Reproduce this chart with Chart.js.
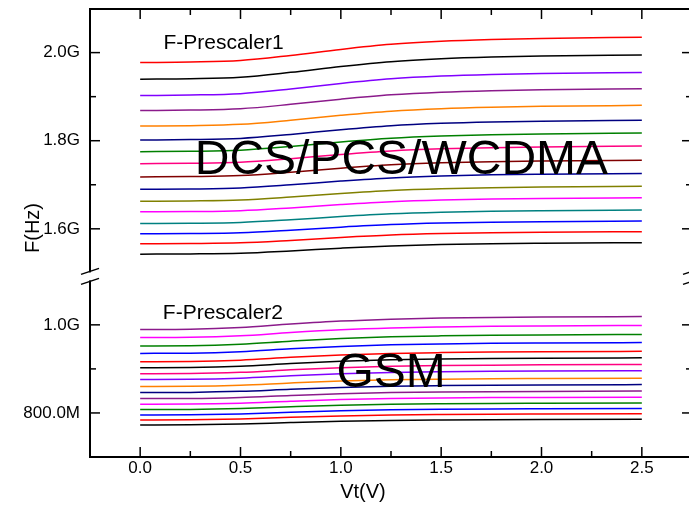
<!DOCTYPE html>
<html>
<head>
<meta charset="utf-8">
<script src="https://cdn.jsdelivr.net/npm/chart.js@4"></script>
<style>
  html, body { margin: 0; padding: 0; background: #fff; overflow: hidden; }
  #wrap { position: absolute; left: 0; top: 0; width: 700px; height: 506px; }
</style>
</head>
<body>
<div id="wrap"><canvas id="vco-chart" width="700" height="506"></canvas></div>
<script>
// Tuning voltage sweep (V)
const voltage = [0, 0.25, 0.5, 0.75, 1.0, 1.25, 1.5, 1.75, 2.0, 2.5];

// F-Prescaler1 outputs (MHz), one row per band setting, highest first
const prescaler1 = [
  [1977.4, 1978.6, 1982.0, 1993.5, 2007.3, 2018.8, 2025.7, 2029.7, 2032.0, 2034.9],
  [1939.8, 1940.9, 1944.2, 1955.2, 1968.4, 1979.4, 1986.0, 1989.9, 1992.1, 1994.8],
  [1902.6, 1903.7, 1906.8, 1917.3, 1929.9, 1940.4, 1946.7, 1950.4, 1952.5, 1955.1],
  [1868.6, 1869.6, 1872.6, 1882.5, 1894.3, 1904.2, 1910.2, 1913.6, 1915.6, 1918.1],
  [1833.3, 1834.2, 1837.1, 1846.5, 1857.7, 1867.1, 1872.8, 1876.1, 1878.0, 1880.3],
  [1801.6, 1802.5, 1805.2, 1814.2, 1825.0, 1834.0, 1839.4, 1842.6, 1844.4, 1846.6],
  [1775.1, 1776.0, 1778.5, 1787.0, 1797.2, 1805.7, 1810.8, 1813.8, 1815.5, 1817.6],
  [1747.9, 1748.7, 1751.1, 1759.1, 1768.7, 1776.7, 1781.5, 1784.3, 1785.9, 1787.9],
  [1717.8, 1718.6, 1720.8, 1728.4, 1737.6, 1745.2, 1749.7, 1752.4, 1753.9, 1755.8],
  [1689.7, 1690.4, 1692.6, 1699.8, 1708.4, 1715.6, 1719.9, 1722.5, 1723.9, 1725.7],
  [1662.5, 1663.2, 1665.2, 1672.0, 1680.2, 1687.0, 1691.1, 1693.4, 1694.8, 1696.5],
  [1638.5, 1639.1, 1641.1, 1647.5, 1655.1, 1661.5, 1665.4, 1667.6, 1668.9, 1670.5],
  [1612.0, 1612.6, 1614.4, 1620.5, 1627.9, 1634.0, 1637.6, 1639.8, 1641.0, 1642.5],
  [1588.7, 1589.3, 1591.0, 1596.8, 1603.8, 1609.6, 1613.1, 1615.1, 1616.3, 1617.7],
  [1566.0, 1566.6, 1568.2, 1573.7, 1580.3, 1585.8, 1589.1, 1591.0, 1592.1, 1593.5],
  [1542.5, 1543.0, 1544.6, 1549.8, 1556.0, 1561.2, 1564.3, 1566.2, 1567.2, 1568.5]
];

// F-Prescaler2 outputs (MHz)
const prescaler2 = [
  [989.3, 989.9, 993.7, 1001.7, 1008.5, 1012.9, 1015.3, 1016.7, 1017.6, 1018.8],
  [971.0, 971.6, 975.1, 982.6, 988.9, 993.0, 995.2, 996.6, 997.4, 998.5],
  [952.1, 952.6, 956.0, 963.0, 969.0, 972.9, 975.0, 976.3, 977.1, 978.1],
  [935.2, 935.7, 938.9, 945.5, 951.1, 954.8, 956.8, 958.0, 958.7, 959.7],
  [916.3, 916.8, 919.8, 926.2, 931.6, 935.1, 937.0, 938.2, 938.9, 939.8],
  [902.6, 903.1, 906.0, 912.1, 917.2, 920.6, 922.4, 923.5, 924.2, 925.1],
  [889.0, 889.4, 892.2, 897.8, 902.7, 905.8, 907.5, 908.5, 909.2, 910.0],
  [876.0, 876.4, 879.0, 884.4, 889.0, 892.0, 893.6, 894.6, 895.2, 896.0],
  [860.0, 860.4, 862.9, 868.0, 872.4, 875.2, 876.7, 877.7, 878.2, 879.0],
  [846.3, 846.7, 849.0, 853.9, 858.0, 860.7, 862.1, 863.0, 863.6, 864.3],
  [832.6, 832.9, 835.2, 839.7, 843.7, 846.2, 847.6, 848.4, 848.9, 849.6],
  [819.9, 820.2, 822.3, 826.6, 830.3, 832.7, 834.0, 834.8, 835.3, 835.9],
  [807.6, 807.9, 809.9, 813.9, 817.4, 819.6, 820.8, 821.6, 822.0, 822.6],
  [795.5, 795.8, 797.7, 801.6, 804.9, 807.1, 808.3, 809.0, 809.4, 810.0],
  [784.1, 784.4, 786.2, 790.0, 793.2, 795.3, 796.4, 797.1, 797.5, 798.1],
  [772.7, 773.0, 774.7, 778.2, 781.2, 783.1, 784.1, 784.8, 785.2, 785.7]
];

const colors1 = ['#ff0000', '#000000', '#8000ff', '#8b1a8b', '#ff8000', '#000080', '#008000', '#ff0080',
                 '#800000', '#000090', '#808000', '#ff00ff', '#008080', '#0000ff', '#ff0000', '#000000'];
const colors2 = ['#8b1a8b', '#ff00ff', '#008000', '#0000ff', '#ff0000', '#000000', '#ff0080', '#8000ff',
                 '#ff8000', '#000080', '#8b1a8b', '#ff00ff', '#008000', '#0000ff', '#ff0000', '#000000'];

// Axis ticks
const xMajor = [0, 0.5, 1.0, 1.5, 2.0, 2.5];
const xMinor = [0.25, 0.75, 1.25, 1.75, 2.25];
const yHighTicks = [1600, 1700, 1800, 1900, 2000];
const yLowTicks = [800, 900, 1000];
const yMajor = [800, 1000, 1600, 1800, 2000];

const FONT = '"Liberation Sans", Arial, Helvetica, sans-serif';

function freqLabel(mhz) {
  return mhz >= 1000 ? (mhz / 1000).toFixed(1) + 'G' : mhz.toFixed(1) + 'M';
}

function makeSets(rows, colors, axisId) {
  return rows.map((row, i) => ({
    data: voltage.map((v, j) => ({ x: v, y: row[j] })),
    yAxisID: axisId,
    borderColor: colors[i],
    borderWidth: 1.5,
    pointRadius: 0,
    cubicInterpolationMode: 'monotone',
    fill: false
  }));
}

// Frame, inward ticks, axis break marks and text labels
const framePlugin = {
  id: 'frame',
  afterDraw(chart) {
    const ctx = chart.ctx;
    const a = chart.chartArea;
    const x = chart.scales.x, yHi = chart.scales.yHigh, yLo = chart.scales.yLow;
    ctx.save();
    ctx.strokeStyle = '#000';
    ctx.lineWidth = 2;
    ctx.strokeRect(a.left, a.top, a.right - a.left, a.bottom - a.top);

    const tick = (x1, y1, x2, y2) => { ctx.beginPath(); ctx.moveTo(x1, y1); ctx.lineTo(x2, y2); ctx.stroke(); };
    ctx.lineWidth = 1.5;
    xMajor.forEach(v => { const px = x.getPixelForValue(v); tick(px, a.bottom, px, a.bottom - 10); tick(px, a.top, px, a.top + 10); });
    xMinor.forEach(v => { const px = x.getPixelForValue(v); tick(px, a.bottom, px, a.bottom - 6); tick(px, a.top, px, a.top + 6); });
    const yTick = (scale, v) => {
      const py = scale.getPixelForValue(v);
      const len = yMajor.includes(v) ? 10 : 6;
      tick(a.left, py, a.left + len, py);
      tick(a.right, py, a.right - len, py);
    };
    yHighTicks.forEach(v => yTick(yHi, v));
    yLowTicks.forEach(v => yTick(yLo, v));

    // axis break between the two frequency ranges
    const by = yHi.bottom;
    [a.left, a.right].forEach(bx => {
      ctx.fillStyle = '#fff';
      ctx.fillRect(bx - 2, by - 4, 4, 8);
      ctx.lineWidth = 1.5;
      tick(bx - 9, by - 2, bx + 9, by - 8);
      tick(bx - 9, by + 8, bx + 9, by + 2);
    });

    ctx.fillStyle = '#000';
    ctx.textBaseline = 'alphabetic';
    ctx.textAlign = 'left';
    ctx.font = '21px ' + FONT;
    ctx.fillText('F-Prescaler1', x.getPixelForValue(0.116), yHi.getPixelForValue(2007.7));
    ctx.fillText('F-Prescaler2', x.getPixelForValue(0.113), yLo.getPixelForValue(1013.7));
    ctx.font = '48px ' + FONT;
    ctx.fillText('DCS/PCS/WCDMA', x.getPixelForValue(0.272), yHi.getPixelForValue(1725.3));
    ctx.fillText('GSM', x.getPixelForValue(0.978), yLo.getPixelForValue(858.6));

    // axis titles
    ctx.font = '20px ' + FONT;
    ctx.textAlign = 'center';
    ctx.textBaseline = 'middle';
    ctx.fillText('Vt(V)', 363, 492);
    ctx.translate(33, 228);
    ctx.rotate(-Math.PI / 2);
    ctx.fillText('F(Hz)', 0, 0);
    ctx.restore();
  }
};

const tickFont = { family: FONT, size: 17 };

const yScale = (ticks, min, max, weight) => ({
  type: 'linear',
  position: 'left',
  stack: 'freq',
  stackWeight: weight,
  min: min,
  max: max,
  afterBuildTicks: s => { s.ticks = ticks.map(v => ({ value: v })); },
  afterFit: s => { s.width = 90; s.paddingTop = 0; s.paddingBottom = 0; },
  ticks: {
    color: '#000',
    font: tickFont,
    padding: 10,
    autoSkip: false,
    callback: v => yMajor.includes(v) ? freqLabel(v) : ''
  },
  grid: { display: false, drawTicks: false },
  border: { display: false }
});

new Chart(document.getElementById('vco-chart'), {
  type: 'line',
  data: {
    datasets: makeSets(prescaler1, colors1, 'yHigh').concat(makeSets(prescaler2, colors2, 'yLow'))
  },
  options: {
    responsive: false,
    animation: false,
    layout: { padding: { top: 9, right: 8, left: 0, bottom: 0 } },
    plugins: { legend: { display: false }, tooltip: { enabled: false } },
    scales: {
      x: {
        type: 'linear',
        min: -0.25,
        max: 2.75,
        afterBuildTicks: s => { s.ticks = xMajor.map(v => ({ value: v })); },
        afterFit: s => { s.height = 49; s.paddingLeft = 0; s.paddingRight = 0; },
        ticks: {
          color: '#000',
          font: tickFont,
          padding: 1,
          maxRotation: 0,
          autoSkip: false,
          callback: v => v.toFixed(1)
        },
        grid: { display: false, drawTicks: false },
        border: { display: false }
      },
      yLow: yScale(yLowTicks, 700, 1110, 410),
      yHigh: yScale(yHighTicks, 1492, 2099, 607)
    }
  },
  plugins: [framePlugin]
});
</script>
</body>
</html>
